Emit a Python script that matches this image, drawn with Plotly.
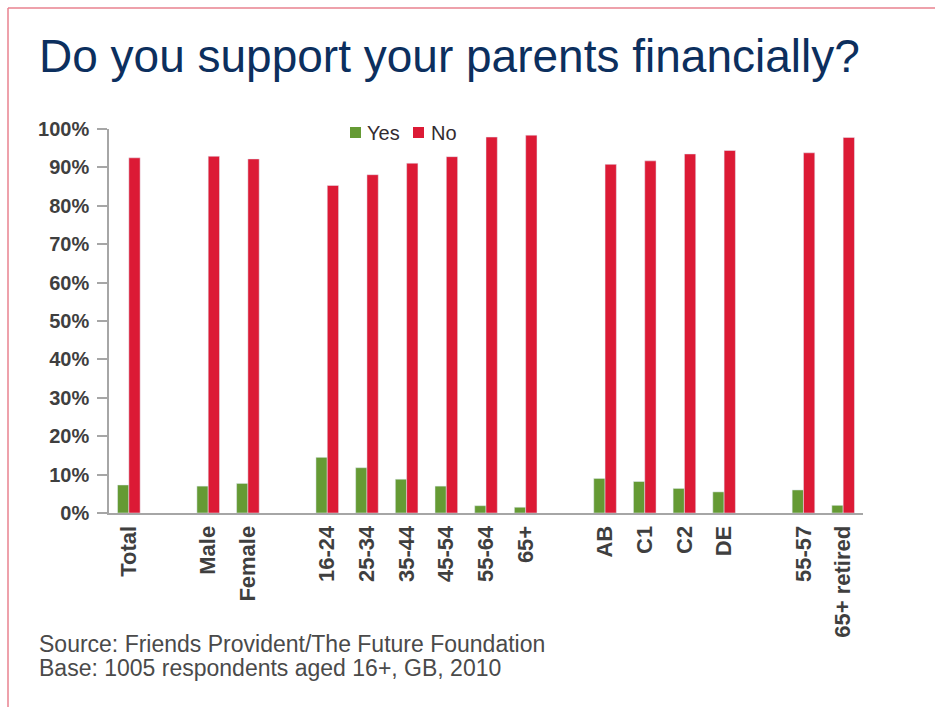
import plotly.graph_objects as go

# Respondent groups, separated by a blank slot between each group
groups = [
    ["Total"],
    ["Male", "Female"],
    ["16-24", "25-34", "35-44", "45-54", "55-64", "65+"],
    ["AB", "C1", "C2", "DE"],
    ["55-57", "65+ retired"],
]

# Share of respondents (%)
yes_pct = [7.3, 7.0, 7.7, 14.5, 11.8, 8.8, 7.0, 1.9, 1.5, 9.0, 8.2, 6.4, 5.5, 6.0, 2.0]
no_pct = [92.5, 92.9, 92.2, 85.3, 88.1, 91.1, 92.8, 97.9, 98.4, 90.8, 91.7, 93.5, 94.4, 93.8, 97.8]

series_names = ["Yes", "No"]
y_ticks = list(range(0, 101, 10))

# Slot positions along the x axis, leaving one empty slot between groups
labels, pos = [], []
slot = 0
for g in groups:
    for name in g:
        labels.append(name)
        pos.append(slot)
        slot += 1
    slot += 1
n_slots = slot - 1

GREEN = "#659a34"
RED = "#dc1a35"
NAVY = "#0c2f5e"
TEXT = "#3f3f3f"
AXIS = "#a6a6a6"
FRAME = "#e9828f"

W, H = 935, 707
L, R, T, B = 109, 72, 129, 194
pw, ph = W - L - R, H - T - B


def px(x):
    return (x - L) / pw


def py(y):
    return (H - B - y) / ph


fig = go.Figure()
fig.add_trace(go.Bar(x=pos, y=yes_pct, name=series_names[0], marker_color=GREEN, showlegend=False))
fig.add_trace(go.Bar(x=pos, y=no_pct, name=series_names[1], marker_color=RED, showlegend=False))

fig.update_layout(
    width=W,
    height=H,
    margin=dict(l=L, r=R, t=T, b=B, autoexpand=False),
    paper_bgcolor="white",
    plot_bgcolor="white",
    barmode="group",
    bargap=0.43,
    bargroupgap=0,
    font=dict(family="Liberation Sans, Arial, sans-serif", color=TEXT),
    title=dict(
        text="Do you support your parents financially?",
        font=dict(family="Liberation Sans, Arial, sans-serif", size=46, color=NAVY),
        xref="container",
        yref="container",
        x=39 / W,
        xanchor="left",
        y=1 - 56 / H,
        yanchor="middle",
    ),
    showlegend=False,
)

fig.update_xaxes(
    range=[-0.5, n_slots - 0.5],
    tickmode="array",
    tickvals=pos,
    ticktext=labels,
    tickangle=-90,
    tickfont=dict(size=22, color=TEXT, weight="bold"),
    showline=True,
    linecolor=AXIS,
    linewidth=2,
    showgrid=False,
    zeroline=False,
    ticks="",
    ticklabelstandoff=2,
)

fig.update_yaxes(
    range=[0, 100],
    tickmode="array",
    tickvals=y_ticks,
    ticktext=[f"{v}%" for v in y_ticks],
    tickfont=dict(size=20, color=TEXT, weight="bold"),
    showline=True,
    linecolor=AXIS,
    linewidth=1.5,
    ticks="outside",
    ticklen=10,
    tickcolor=AXIS,
    tickwidth=1.5,
    showgrid=False,
    zeroline=False,
    ticklabelstandoff=4,
)

# Key at the top of the plot: a colour square followed by the series name
key = [(series_names[0], GREEN, 350, 365), (series_names[1], RED, 413, 429)]
for name, colour, sq_x, txt_x in key:
    fig.add_shape(type="rect", xref="paper", yref="paper",
                  x0=px(sq_x), x1=px(sq_x + 11), y0=py(138), y1=py(127),
                  fillcolor=colour, line=dict(width=0))
    fig.add_annotation(text=name, xref="paper", yref="paper",
                       x=px(txt_x), y=py(133), xanchor="left", yanchor="middle",
                       showarrow=False, font=dict(size=20, color="#332b30"))

# Source notes under the chart
fig.add_annotation(
    text="Source: Friends Provident/The Future Foundation",
    xref="paper", yref="paper", x=px(37), y=py(644),
    xanchor="left", yanchor="middle", showarrow=False,
    font=dict(size=23, color="#4a4a4a"),
)
fig.add_annotation(
    text="Base: 1005 respondents aged 16+, GB, 2010",
    xref="paper", yref="paper", x=px(37), y=py(668),
    xanchor="left", yanchor="middle", showarrow=False,
    font=dict(size=23, color="#4a4a4a"),
)

# Frame lines along the top and left edges
fig.add_shape(type="line", xref="paper", yref="paper",
              x0=px(8), x1=px(W + 5), y0=py(8), y1=py(8),
              line=dict(color=FRAME, width=1.5))
fig.add_shape(type="line", xref="paper", yref="paper",
              x0=px(8), x1=px(8), y0=py(8), y1=py(H + 5),
              line=dict(color=FRAME, width=1.5))

fig.write_html("out.html")
